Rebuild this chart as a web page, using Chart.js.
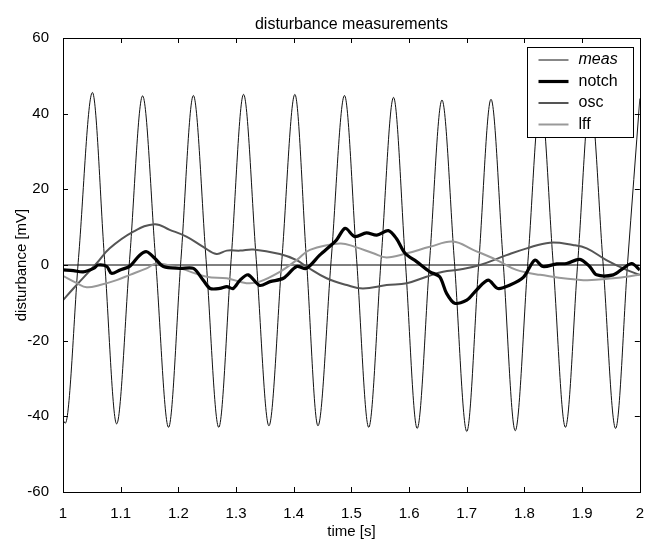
<!DOCTYPE html>
<html>
<head>
<meta charset="utf-8">
<script src="https://cdn.jsdelivr.net/npm/chart.js@4"></script>
<style>
  html, body { margin: 0; padding: 0; background: #fff; }
  #wrap { width: 649px; height: 542px; }
</style>
</head>
<body>
<div id="wrap"><canvas id="chart" width="649" height="542"></canvas></div>
<script>
// values (time in s, disturbance in mV)
const measT = [1.000, 1.004, 1.027, 1.051, 1.072, 1.093, 1.1155, 1.138, 1.1605, 1.183, 1.2045, 1.226,
  1.248, 1.270, 1.2915, 1.313, 1.335, 1.357, 1.3795, 1.402, 1.422, 1.442, 1.465, 1.488, 1.509, 1.530,
  1.5515, 1.573, 1.5935, 1.614, 1.6355, 1.657, 1.6785, 1.700, 1.721, 1.742, 1.763, 1.784, 1.806, 1.828,
  1.8495, 1.871, 1.8925, 1.914, 1.936, 1.958, 1.979, 2.000];
const measV = [-41.0, -41.8, 2, 45.6, 1.5, -42.0, 1.5, 44.7, 1.5, -42.9, 1.5, 44.8,
  1.5, -42.9, 1.5, 45.1, 1.5, -42.5, 1.5, 45.1, 1.5, -42.5, 1.5, 44.8, 1.5, -42.9,
  1.5, 44.3, 1, -43.2, 1, 43.6, 1, -44.0, 1, 43.8, 1, -43.8, 1, 44.0,
  1, -42.9, 1, 44.0, 1, -43.2, 1, 44.0];

const notchT = [1.000, 1.018, 1.035, 1.053, 1.061, 1.076, 1.084, 1.099, 1.116, 1.133, 1.145, 1.159,
  1.174, 1.203, 1.226, 1.243, 1.255, 1.272, 1.284, 1.295, 1.307, 1.321, 1.341, 1.359, 1.382, 1.405,
  1.422, 1.445, 1.474, 1.489, 1.506, 1.526, 1.544, 1.564, 1.578, 1.593, 1.613, 1.636, 1.653, 1.665,
  1.679, 1.700, 1.717, 1.737, 1.754, 1.775, 1.798, 1.818, 1.832, 1.856, 1.873, 1.896, 1.913, 1.925,
  1.954, 1.971, 1.986, 2.000];
const notchV = [-1.3, -1.5, -1.8, -0.9, 0, -0.4, -2.2, -1.3, -0.3, 2.6, 3.5, 1.8,
  -0.4, -0.9, -0.9, -4.0, -6.2, -6.2, -5.7, -6.2, -4.0, -2.6, -5.4, -4.4, -3.5, -0.4,
  -0.9, 2.6, 6.6, 9.7, 7.5, 8.5, 7.9, 9.1, 7.0, 3.1, 0.9, -1.8, -3.1, -7.5,
  -10.1, -9.3, -6.6, -4.0, -6.2, -5.3, -3.3, 1.3, -0.4, 0.3, 0.4, 1.5, -0.4, -2.6,
  -2.6, -0.9, 0.4, -1.3];

const oscT = [1.000, 1.018, 1.058, 1.081, 1.122, 1.159, 1.185, 1.214, 1.243, 1.266, 1.284, 1.307,
  1.330, 1.376, 1.405, 1.422, 1.457, 1.492, 1.520, 1.561, 1.596, 1.630, 1.659, 1.688, 1.723, 1.769,
  1.804, 1.844, 1.884, 1.908, 1.942, 1.977, 2.000];
const oscV = [-9.3, -6.2, 0.4, 4.4, 8.8, 10.8, 9.3, 7.5, 4.8, 2.9, 3.8, 3.8,
  4.1, 2.9, 1.3, -0.4, -3.5, -5.3, -6.2, -5.3, -4.8, -3.1, -1.8, -1.2, 0, 2.6,
  4.4, 5.9, 5.3, 4.4, 1.3, -1.3, -2.6];

const lffT = [1.000, 1.024, 1.041, 1.064, 1.093, 1.116, 1.145, 1.162, 1.203, 1.249, 1.284, 1.318,
  1.341, 1.376, 1.405, 1.428, 1.480, 1.506, 1.538, 1.561, 1.596, 1.636, 1.676, 1.711, 1.752, 1.786,
  1.827, 1.902, 1.954, 2.000];
const lffV = [-2.9, -4.8, -5.9, -5.3, -4.0, -2.6, -0.9, 0.4, -0.9, -3.1, -3.5, -4.8,
  -4.4, -1.8, 1.3, 4.0, 5.7, 4.8, 3.1, 2.0, 3.1, 4.8, 6.2, 4.0, 1.3, -1.3,
  -2.6, -4.0, -3.5, -2.6];

const xTicks = [1, 1.1, 1.2, 1.3, 1.4, 1.5, 1.6, 1.7, 1.8, 1.9, 2];
const yTicks = [-60, -40, -20, 0, 20, 40, 60];
const seriesNames = ["meas", "notch", "osc", "lff"];

const FONT = "'Liberation Sans', Arial, sans-serif";
const pts = (ts, vs) => ts.map((t, i) => ({ x: t, y: vs[i] }));

// frame, inward ticks, title, x label and legend drawn the MATLAB way
const matlabAxes = {
  id: "matlabAxes",
  afterDatasetsDraw(chart) {
    const { ctx, chartArea: a, scales: { x, y } } = chart;
    ctx.save();
    ctx.strokeStyle = "#000";
    ctx.lineWidth = 1;
    ctx.strokeRect(Math.round(a.left) + 0.5, Math.round(a.top) + 0.5, Math.round(a.width), Math.round(a.height));
    ctx.beginPath();
    xTicks.forEach(v => {
      const px = Math.round(x.getPixelForValue(v)) + 0.5;
      ctx.moveTo(px, a.bottom); ctx.lineTo(px, a.bottom - 5);
      ctx.moveTo(px, a.top); ctx.lineTo(px, a.top + 5);
    });
    yTicks.forEach(v => {
      const py = Math.round(y.getPixelForValue(v)) + 0.5;
      ctx.moveTo(a.left, py); ctx.lineTo(a.left + 5, py);
      ctx.moveTo(a.right, py); ctx.lineTo(a.right - 5, py);
    });
    ctx.stroke();

    ctx.fillStyle = "#000";
    ctx.textAlign = "center";
    ctx.textBaseline = "alphabetic";
    ctx.font = "16px " + FONT;
    ctx.fillText("disturbance measurements", (a.left + a.right) / 2, 29);
    ctx.font = "15px " + FONT;
    ctx.fillText("time [s]", (a.left + a.right) / 2, 536);

    // legend box
    const bw = 106, bh = 90;
    const bx = Math.round(a.right - 7 - bw) + 0.5, by = Math.round(a.top + 9) + 0.5;
    ctx.fillStyle = "#fff";
    ctx.fillRect(bx, by, bw, bh);
    ctx.strokeRect(bx, by, bw, bh);
    ctx.textAlign = "left";
    ctx.textBaseline = "middle";
    chart.data.datasets.slice(0, 4).forEach((ds, i) => {
      const ry = by + 12.5 + i * 21.5;
      ctx.strokeStyle = ds.borderColor;
      ctx.lineWidth = ds.borderWidth;
      ctx.beginPath();
      ctx.moveTo(bx + 11, ry); ctx.lineTo(bx + 41, ry);
      ctx.stroke();
      ctx.fillStyle = "#000";
      ctx.font = (i === 0 ? "italic " : "") + "16px " + FONT;
      ctx.fillText(ds.label, bx + 51, ry);
    });
    ctx.restore();
  }
};

new Chart(document.getElementById("chart"), {
  type: "line",
  data: {
    datasets: [
      { label: seriesNames[0], data: pts(measT, measV), borderColor: "#111", borderWidth: 1, order: 4, cubicInterpolationMode: "monotone" },
      { label: seriesNames[1], data: pts(notchT, notchV), borderColor: "#000", borderWidth: 3.2, order: 1, tension: 0.3 },
      { label: seriesNames[2], data: pts(oscT, oscV), borderColor: "#555", borderWidth: 2, order: 3, tension: 0.4 },
      { label: seriesNames[3], data: pts(lffT, lffV), borderColor: "#999", borderWidth: 2, order: 2, tension: 0.4 },
      { label: "zero", data: [{ x: 1, y: 0 }, { x: 2, y: 0 }], borderColor: "#000", borderWidth: 1, order: 5 }
    ]
  },
  options: {
    responsive: false,
    animation: false,
    elements: { point: { radius: 0 } },
    layout: { padding: { top: 38, right: 9, left: 9, bottom: 0 } },
    plugins: { legend: { display: false }, tooltip: { enabled: false } },
    scales: {
      x: {
        type: "linear", min: 1, max: 2,
        afterFit: s => { s.height = 50; },
        afterBuildTicks: s => { s.ticks = xTicks.map(v => ({ value: v })); },
        grid: { display: false },
        border: { display: false },
        ticks: { color: "#000", font: { family: FONT, size: 15 }, padding: 5, maxRotation: 0, callback: v => String(v) }
      },
      y: {
        type: "linear", min: -60, max: 60,
        afterFit: s => { s.width = 54; },
        afterBuildTicks: s => { s.ticks = yTicks.map(v => ({ value: v })); },
        grid: { display: false },
        border: { display: false },
        ticks: { color: "#000", font: { family: FONT, size: 15 }, padding: 6 },
        title: { display: true, text: "disturbance [mV]", color: "#000", font: { family: FONT, size: 15 }, padding: { bottom: 2 } }
      }
    }
  },
  plugins: [matlabAxes]
});
</script>
</body>
</html>
